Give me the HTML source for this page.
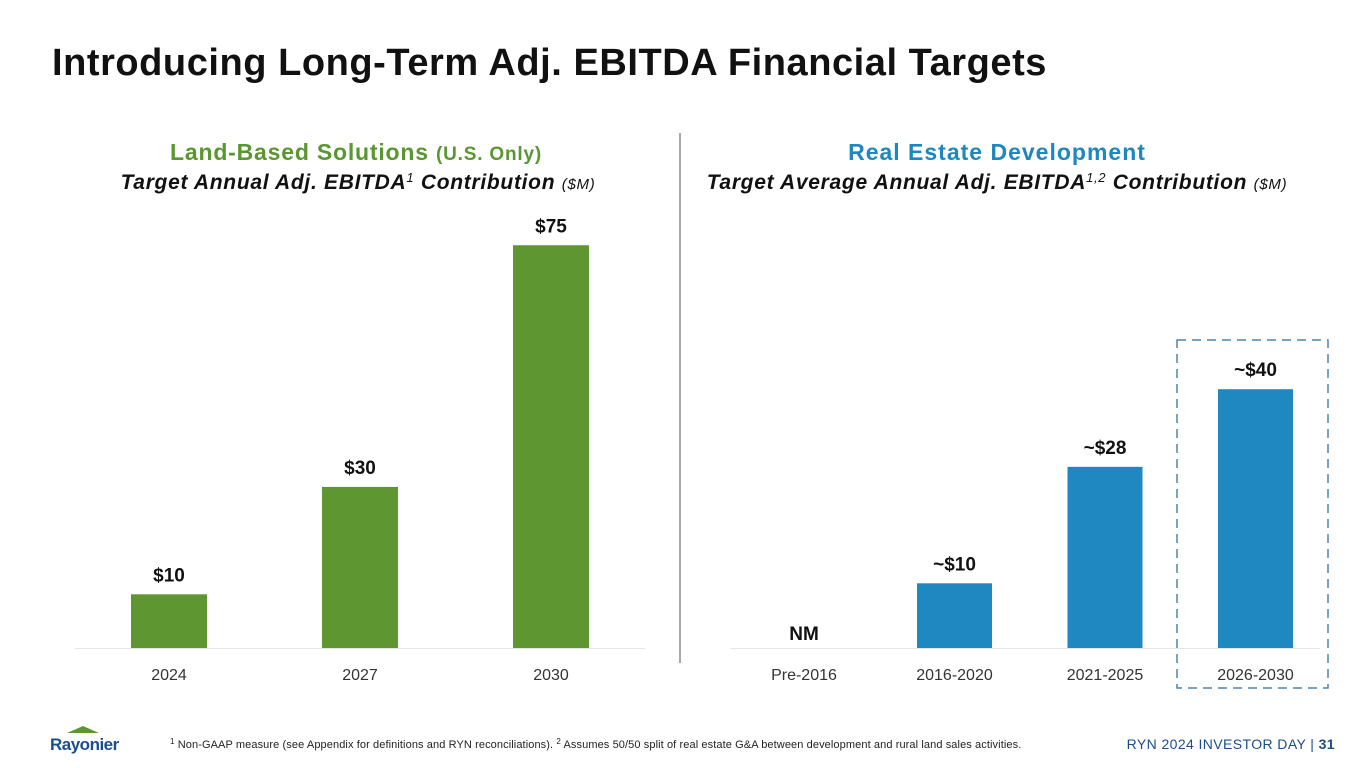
<!DOCTYPE html>
<html><head><meta charset="utf-8"><style>
body{margin:0;width:1365px;height:768px;overflow:hidden;background:#fff;font-family:"Liberation Sans",sans-serif}
svg{display:block}
</style></head><body>
<svg id="s" width="1365" height="768" viewBox="0 0 1365 768" font-family="Liberation Sans, sans-serif">
<text x="52" y="75" font-size="38" font-weight="bold" fill="#111" letter-spacing="0.55">Introducing Long-Term Adj. EBITDA Financial Targets</text>
<text x="356" y="160" text-anchor="middle" font-size="23" font-weight="bold" fill="#5a9632" letter-spacing="0.8">Land-Based Solutions <tspan font-size="19">(U.S. Only)</tspan></text>
<text x="358" y="189" text-anchor="middle" font-size="21" font-weight="bold" font-style="italic" fill="#111" letter-spacing="0.7">Target Annual Adj. EBITDA<tspan font-size="13" font-weight="normal" dy="-7">1</tspan><tspan dy="7"> Contribution </tspan><tspan font-size="15" font-weight="normal">($M)</tspan></text>
<text x="997" y="160" text-anchor="middle" font-size="23" font-weight="bold" fill="#1f87c0" letter-spacing="1">Real Estate Development</text>
<text x="997" y="189" text-anchor="middle" font-size="21" font-weight="bold" font-style="italic" fill="#111" letter-spacing="0.7">Target Average Annual Adj. EBITDA<tspan font-size="13" font-weight="normal" dy="-7">1,2</tspan><tspan dy="7"> Contribution </tspan><tspan font-size="15" font-weight="normal">($M)</tspan></text>
<line x1="680" y1="133" x2="680" y2="663" stroke="#8c8c8c" stroke-width="1.5"/>
<rect x="1177" y="340" width="151" height="348" fill="none" stroke="#4a86a8" stroke-width="1.5" stroke-dasharray="9,6"/>
<line x1="75" y1="648.5" x2="645" y2="648.5" stroke="#e6e6e6"/>
<line x1="730" y1="648.5" x2="1320" y2="648.5" stroke="#e6e6e6"/>
<g id="lg"></g><g id="rg"></g>
<g>
<polygon points="67,733 83,726 99,733" fill="#5a9632"/>
<text x="50" y="750" font-size="17" font-weight="bold" fill="#1a4d8c" letter-spacing="-0.5">Rayonier</text>
</g>
<text x="170" y="748" font-size="11" fill="#222" letter-spacing="0.1"><tspan font-size="8" dy="-4">1</tspan><tspan dy="4"> Non-GAAP measure (see Appendix for definitions and RYN reconciliations). </tspan><tspan font-size="8" dy="-4">2</tspan><tspan dy="4"> Assumes 50/50 split of real estate G&amp;A between development and rural land sales activities.</tspan></text>
<text x="1335" y="749" text-anchor="end" font-size="14" fill="#1a4d8c" letter-spacing="0.4">RYN 2024 INVESTOR DAY  |  <tspan font-weight="bold">31</tspan></text>
</svg>
<script>
const leftCategories=["2024","2027","2030"];
const leftValues=[10,30,75];
const leftLabels=["$10","$30","$75"];
const rightCategories=["Pre-2016","2016-2020","2021-2025","2026-2030"];
const rightValues=[0,10,28,40];
const rightLabels=["NM","~$10","~$28","~$40"];
const NS="http://www.w3.org/2000/svg";
function mk(t,a,txt){const e=document.createElementNS(NS,t);for(const k in a)e.setAttribute(k,a[k]);if(txt!=null)e.textContent=txt;return e;}
function draw(gid,cats,vals,labs,x0,step,scale,color,w){
 const g=document.getElementById(gid);const base=648;
 cats.forEach((c,i)=>{
  const cx=x0+i*step;const h=vals[i]*scale;
  if(vals[i]>0){
   const r=mk('rect',{x:cx-w/2,y:base-h,width:w,height:h,fill:color});
   
   
   g.appendChild(r);
  }
  const l=mk('text',{x:cx,y:base-h-(vals[i]>0?13:8),'text-anchor':'middle','font-size':19,'font-weight':'bold',fill:'#111'},labs[i]);
  
  
  g.appendChild(l);
  const t=mk('text',{x:cx,y:680,'text-anchor':'middle','font-size':16,fill:'#333'},c);
  
  
  g.appendChild(t);
 });
}
draw('lg',leftCategories,leftValues,leftLabels,169,191,5.37,'#5e9732',76);
draw('rg',rightCategories,rightValues,rightLabels,804,150.5,6.47,'#1f88c0',75);
</script>
</body></html>
